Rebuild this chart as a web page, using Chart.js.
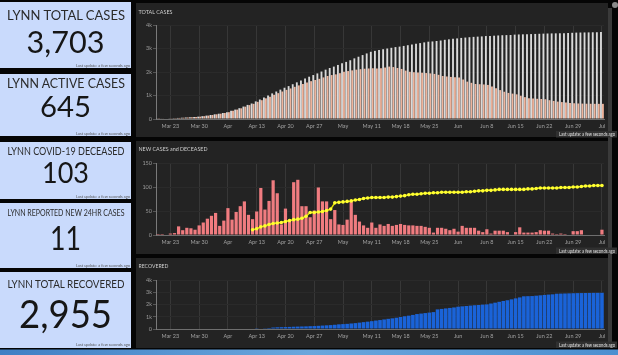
<!DOCTYPE html>
<html><head><meta charset="utf-8">
<script src="https://cdn.jsdelivr.net/npm/chart.js@4/dist/chart.umd.min.js"></script>
<style>
html,body{margin:0;padding:0;background:#050505;width:618px;height:355px;overflow:hidden;}
.panel{position:absolute;background:#232323;}
canvas{position:absolute;}
#ov{position:absolute;left:0;top:0;}
</style></head><body>
<div class="panel" style="left:136px;top:3px;width:472px;height:134px"></div>
<div class="panel" style="left:136px;top:141px;width:472px;height:113px"></div>
<div class="panel" style="left:136px;top:258px;width:472px;height:90px"></div>
<canvas id="c1" width="474" height="134" style="left:136px;top:3px"></canvas>
<canvas id="c2" width="474" height="113" style="left:136px;top:141px"></canvas>
<canvas id="c3" width="474" height="90" style="left:136px;top:258px"></canvas>
<svg id="ov" width="618" height="355" xmlns="http://www.w3.org/2000/svg"></svg>
<script>
// ---------- DATA ----------
const dates = [
 "3/20","3/21","3/22","3/23","3/24","3/25","3/26","3/27","3/28","3/29","3/30","3/31",
 "4/1","4/2","4/3","4/4","4/5","4/6","4/7","4/8","4/9","4/10","4/11","4/12","4/13","4/14","4/15",
 "4/16","4/17","4/18","4/19","4/20","4/21","4/22","4/23","4/24","4/25","4/26","4/27","4/28","4/29","4/30",
 "5/1","5/2","5/3","5/4","5/5","5/6","5/7","5/8","5/9","5/10","5/11","5/12","5/13","5/14","5/15","5/16",
 "5/17","5/18","5/19","5/20","5/21","5/22","5/23","5/24","5/25","5/26","5/27","5/28","5/29","5/30","5/31",
 "6/1","6/2","6/3","6/4","6/5","6/6","6/7","6/8","6/9","6/10","6/11","6/12","6/13","6/14","6/15",
 "6/16","6/17","6/18","6/19","6/20","6/21","6/22","6/23","6/24","6/25","6/26","6/27","6/28","6/29","6/30",
 "7/1","7/2","7/3","7/4","7/5","7/6"
];
const tickLabels = {"3/23":"Mar 23","3/30":"Mar 30","4/6":"Apr","4/13":"Apr 13","4/20":"Apr 20","4/27":"Apr 27",
 "5/4":"May","5/11":"May 11","5/18":"May 18","5/25":"May 25","6/1":"Jun","6/8":"Jun 8","6/15":"Jun 15",
 "6/22":"Jun 22","6/29":"Jun 29","7/6":"Jul"};

const totalCases = [15,18,22,28,35,45,55,65,75,85,
 100,120,145,170,200,225,255,290,350,400,
 460,530,600,660,750,830,920,1000,1090,1170,
 1250,1330,1400,1480,1560,1640,1720,1800,1870,1940,
 2020,2100,2170,2230,2300,2370,2430,2500,2580,2650,
 2720,2790,2860,2900,2940,2970,3000,3030,3060,3080,
 3110,3140,3170,3200,3230,3260,3290,3300,3320,3340,
 3370,3390,3410,3430,3450,3465,3480,3495,3505,3515,
 3530,3535,3545,3555,3565,3570,3575,3590,3598,3603,
 3608,3614,3620,3626,3632,3638,3642,3645,3648,3652,
 3660,3668,3676,3680,3683,3686,3690,3692,3703];

const activeCases = [15,18,22,28,35,45,55,65,75,85,
 100,120,145,170,200,225,255,290,350,400,
 455,525,590,645,730,800,880,950,1030,1100,
 1170,1240,1300,1370,1430,1490,1550,1610,1660,1710,
 1770,1830,1870,1900,1950,2010,2040,2070,2100,2120,
 2140,2150,2160,2150,2160,2190,2230,2210,2170,2130,
 2060,2010,1990,1980,1970,1955,1940,1920,1880,1830,
 1810,1790,1780,1770,1680,1590,1540,1490,1480,1470,
 1450,1380,1310,1230,1160,1110,1080,1050,990,930,
 880,870,860,850,840,800,770,740,720,700,
 685,670,660,655,650,648,646,645,645];

const newCases = [2,2,1,3,4,18,10,15,14,11,
 20,26,34,40,46,19,30,56,32,48,
 60,70,42,33,49,98,53,71,114,87,
 22,55,32,110,115,60,60,37,51,99,
 70,70,33,52,22,21,32,70,42,28,
 20,15,26,15,22,19,23,19,21,23,
 21,20,20,19,19,17,15,5,15,15,
 13,10,13,7,19,15,15,15,9,6,
 12,3,9,9,9,6,1,6,16,5,
 5,5,6,10,9,9,3,2,3,2,
 1,8,8,10,1,1,1,1,11];

const deceased = [null,null,null,null,null,null,null,null,null,null,
 null,null,null,null,null,null,null,null,null,null,
 null,null,null,11,13,17,19,22,24,25,
 26,28,30,32,33,35,39,47,47,48,
 49,51,54,67,68,69,70,71,73,74,
 76,77,78,78,78,78,79,79,80,81,
 82,84,85,85,86,87,87,88,88,89,
 89,89,89,89,89,90,90,91,92,92,
 93,93,94,95,95,95,95,95,95,95,
 96,96,97,98,98,98,98,98,99,99,
 99,100,100,101,102,102,103,103,103];

const recovered = [0,0,0,0,0,0,0,0,0,0,
 0,0,0,0,0,0,0,0,0,0,
 0,0,0,0,20,40,60,80,120,140,
 150,160,170,185,195,205,215,230,240,260,
 280,300,320,345,380,400,420,450,480,520,
 560,600,640,690,730,780,830,870,920,980,
 1040,1090,1150,1220,1260,1300,1340,1380,1600,1640,
 1680,1720,1760,1820,1850,1880,1910,1940,1960,1990,
 2010,2080,2150,2220,2290,2350,2420,2500,2580,2670,
 2680,2690,2720,2750,2780,2810,2830,2880,2890,2900,
 2910,2920,2930,2935,2940,2945,2950,2952,2955];

const kpiTitles = ["LYNN TOTAL CASES","LYNN ACTIVE CASES","LYNN COVID-19 DECEASED","LYNN REPORTED NEW 24HR CASES","LYNN TOTAL RECOVERED"];
const kpiValues = ["3,703","645","103","11","2,955"];
const footerText = "Last update: a few seconds ago";
const panelTitles = ["TOTAL CASES","NEW CASES and DECEASED","RECOVERED"];

// ---------- LAYOUT (styles / positions) ----------
const kpiLayout = [
 {top:2,  h:66, tB:20,  tS:14,   tL:118, nB:53.3,  nS:30,   nL:78, fB:66.5},
 {top:74, h:62, tB:88,  tS:13,   tL:118, nB:116.7, nS:28,   nL:51, fB:134.5},
 {top:142,h:57, tB:155, tS:10.5, tL:117, nB:183.3, nS:28,   nL:47, fB:197.5},
 {top:203,h:65, tB:216, tS:8.5,  tL:117, nB:250,   nS:33.5, nL:31, fB:266.5},
 {top:272,h:76, tB:288.3,tS:11.5,tL:117, nB:328.3, nS:39.5, nL:93, fB:346}
];
const panelLayout = [
 {tB:14, tL:34, fB:136},
 {tB:151, tL:69, fB:252.5},
 {tB:268, tL:30, fB:346.5}
];

let s = '';
// scrollbar strip, gear dot (drawn first, under texts)
s += `<rect x="608" y="8" width="4" height="340" fill="#3a3a3a"/>`;
s += `<circle cx="615" cy="5" r="3" fill="#8a8a8a"/>`;
kpiTitles.forEach((t,i)=>{
  const L = kpiLayout[i];
  s += `<rect x="0" y="${L.top}" width="131" height="${L.h}" fill="#c9dafc"/>`;
  s += `<text x="66" y="${L.tB}" text-anchor="middle" font-family="Lato" font-weight="400" font-size="${L.tS}" fill="#2b2b2b" textLength="${L.tL}" lengthAdjust="spacingAndGlyphs">${t}</text>`;
  s += `<text x="65.5" y="${L.nB}" text-anchor="middle" font-family="Lato" font-weight="400" font-size="${L.nS}" fill="#161616" textLength="${L.nL}" lengthAdjust="spacingAndGlyphs">${kpiValues[i]}</text>`;
  s += `<text x="130" y="${L.fB}" text-anchor="end" font-family="Lato" font-size="4.5" fill="#555" textLength="54" lengthAdjust="spacingAndGlyphs">${footerText}</text>`;
});
panelTitles.forEach((t,i)=>{
  const P = panelLayout[i];
  s += `<text x="138.5" y="${P.tB}" font-family="Lato" font-size="6.5" fill="#cfcfcf" textLength="${P.tL}" lengthAdjust="spacingAndGlyphs">${t}</text>`;
  s += `<rect x="556" y="${P.fB-5}" width="61" height="6.5" fill="#303030"/>`;
  s += `<text x="615" y="${P.fB}" text-anchor="end" font-family="Lato" font-size="5" fill="#e0e0e0" textLength="56" lengthAdjust="spacingAndGlyphs">${footerText}</text>`;
});
s += `<defs><linearGradient id="tb" x1="0" y1="0" x2="1" y2="0"><stop offset="0" stop-color="#3f7fc4"/><stop offset="0.5" stop-color="#6aa6dc"/><stop offset="1" stop-color="#4c8fd0"/></linearGradient></defs>`;
s += `<rect x="0" y="349.5" width="618" height="6" fill="url(#tb)"/>`;
document.getElementById('ov').innerHTML = s;

// ---------- CHARTS ----------
Chart.defaults.font.family = 'Lato, "Open Sans", sans-serif';
Chart.defaults.font.size = 5.5;
Chart.defaults.color = '#9a9a9a';
Chart.defaults.animation = false;

function xScale(){
  return {
    type:'category', offset:true,
    grid:{offset:false, drawTicks:false, lineWidth:1,
      color:(c)=> tickLabels[dates[c.index]] ? '#373737' : 'rgba(0,0,0,0)'},
    border:{color:'#6e6e6e'},
    ticks:{autoSkip:false, maxRotation:0, minRotation:0, padding:4, color:'#a0a0a0',
      font:{size:5.5}, callback:(v,i)=> tickLabels[dates[i]] || ''},
    afterFit:(sc)=>{sc.height=12;}
  };
}
function yScale(max, step, fmt){
  return {
    min:0, max:max,
    grid:{color:'#2a2a2a', tickLength:3, tickColor:'#555'},
    border:{color:'#7a7a7a'},
    ticks:{stepSize:step, padding:1, color:'#9a9a9a', font:{size:5.5}, callback:fmt},
    afterFit:(sc)=>{sc.width=20;}
  };
}
const kFmt = (v)=> v===0 ? '0' : (v/1000)+'k';
const common = (bottom)=>({
  responsive:false, maintainAspectRatio:false,
  layout:{padding:{left:0,right:6,top:22,bottom:bottom}},
  plugins:{legend:{display:false}, tooltip:{enabled:false}}
});

new Chart(document.getElementById('c1'), {
  type:'bar',
  data:{labels:dates, datasets:[
    {label:'Total Cases', data:totalCases, backgroundColor:'#dadada', barPercentage:0.95, categoryPercentage:0.95},
    {label:'Active Cases', data:activeCases, backgroundColor:'#efb49c', barPercentage:0.95, categoryPercentage:0.95}
  ]},
  options:Object.assign(common(6), {scales:{x:xScale(), y:yScale(4000,1000,kFmt)}})
});

new Chart(document.getElementById('c2'), {
  type:'bar',
  data:{labels:dates, datasets:[
    {type:'line', label:'Deceased', data:deceased, order:0, borderColor:'#e0e000', borderWidth:1.5,
     pointRadius:1.8, pointBackgroundColor:'#ffff33', pointBorderWidth:0, spanGaps:false},
    {label:'New Cases', data:newCases, order:1, backgroundColor:'#f07c80', barPercentage:0.78, categoryPercentage:1}
  ]},
  options:Object.assign(common(7), {scales:{x:xScale(), y:yScale(150,50,(v)=>String(v))}})
});

new Chart(document.getElementById('c3'), {
  type:'bar',
  data:{labels:dates, datasets:[
    {label:'Recovered', data:recovered, backgroundColor:'#1a63d8', barPercentage:0.88, categoryPercentage:1}
  ]},
  options:Object.assign(common(7), {scales:{x:xScale(), y:yScale(4000,1000,kFmt)}})
});
</script>
</body></html>
